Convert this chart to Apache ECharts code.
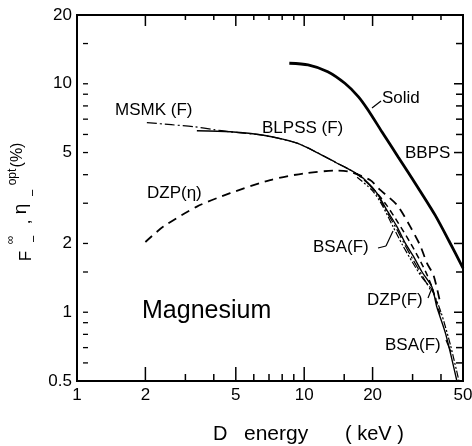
<!DOCTYPE html>
<html><head><meta charset="utf-8">
<script src="https://cdn.jsdelivr.net/npm/echarts@6/dist/echarts.min.js"></script>
<style>html,body{margin:0;padding:0;background:#fff}#c{width:472px;height:446px}</style>
</head><body><div id="c"></div>
<script>
// ---- data ----
const xTickValues = [2,3,4,5,6,7,8,9,10,15,20,30,40];
const xMajorTicks = [2,5,10,20];
const xTickLabels = [1,2,5,10,20,50];
const yTickValues = [15,10,9,8,7,6,5,4,3,2,1.5,1,0.9,0.8,0.7,0.6];
const yTickLabels = [0.5,1,2,5,10,20];

const bbpsEnergy = [8.6,10.4,12.7,15.1,17.3,19.1,21.9,26.0,31.8,37.7,43.4,50];
const bbpsValue  = [12.3,12.1,11.3,10.05,8.79,7.68,6.2,4.76,3.49,2.66,2.05,1.56];

const blpssEnergy = [3.37,4.72,6.62,9.29,11.4,13.9,15.9,18.2,20.9,23.1,25.6,27.9,30.3,33.0,36.5,38.4,42.0,47.0];
const blpssValue  = [6.23,6.17,5.95,5.5,5.0,4.5,4.2,3.86,3.32,2.8,2.37,2.0,1.75,1.5,1.29,1.05,0.8,0.5];

const msmkEnergy = [2.03,2.6,3.3,4.0,4.7,6.6,9.3,11.4,13.9,15.9,18.2,20.9,23.1,25.6,27.9,30.3,33.0,36.0];
const msmkValue  = [6.76,6.62,6.48,6.3,6.17,5.95,5.5,5.0,4.5,4.2,3.84,3.28,2.75,2.3,1.95,1.68,1.45,1.25];

const dzpEtaEnergy = [2.0,2.4,3.37,4.72,7.08,9.93,13.9,15.9,19.5,21.6,25.6,29.3,32.4,34.7,37.1,39.7];
const dzpEtaValue  = [2.03,2.37,2.9,3.32,3.79,4.05,4.17,4.12,3.79,3.43,2.95,2.37,1.96,1.64,1.45,1.1];

const dzpFEnergy = [17.0,20.0,23.0,26.0,29.0,32.0,34.5,36.5,38.5,40.0];
const dzpFValue  = [4.05,3.5,2.95,2.45,2.05,1.72,1.48,1.29,1.08,0.95];

const bsaEnergy = [17.1,20.0,22.0,24.7,27.0,30.0,33.0,36.5,40.0,44.0,48.0];
const bsaValue  = [3.9,3.4,2.95,2.35,1.98,1.65,1.42,1.25,1.0,0.72,0.5];

const zip = (a,b) => a.map((v,i)=>[v,b[i]]);

const chart = echarts.init(document.getElementById('c'));
const FONT = 'Liberation Sans, Arial, sans-serif';
const hiddenAxis = {
  type:'log', logBase:10,
  axisLine:{show:false}, axisTick:{show:false}, axisLabel:{show:false},
  splitLine:{show:false}, minorTick:{show:false}
};
const mk = (data, width, type) => ({
  type:'line', data, showSymbol:false, smooth:0.25, silent:true,
  lineStyle:{color:'#000', width, type}
});
chart.setOption({
  animation:false,
  backgroundColor:'#fff',
  grid:{left:77,right:9,top:15,bottom:65,show:true,borderColor:'#000',borderWidth:2,backgroundColor:'transparent'},
  xAxis:Object.assign({min:1,max:50}, hiddenAxis),
  yAxis:Object.assign({min:0.5,max:20}, hiddenAxis),
  series:[
    mk(zip(bbpsEnergy,bbpsValue), 2.8, 'solid'),
    mk(zip(blpssEnergy,blpssValue), 1.4, 'solid'),
    mk(zip(msmkEnergy,msmkValue), 1.2, [10,3,2,3]),
    mk(zip(dzpEtaEnergy,dzpEtaValue), 1.8, [9,6]),
    mk(zip(dzpFEnergy,dzpFValue), 1.5, [6,4]),
    mk(zip(bsaEnergy,bsaValue), 1.2, [7,2,2,2,2,2])
  ]
});

const px = v => chart.convertToPixel({xAxisIndex:0}, v);
const py = v => chart.convertToPixel({yAxisIndex:0}, v);
const g = [];
const yTop = py(20), yBot = py(0.5), xL = px(1), xR = px(50);
const line = (x1,y1,x2,y2,w) => g.push({type:'line',shape:{x1,y1,x2,y2},style:{stroke:'#000',lineWidth:w||1.5}});
xTickValues.forEach(v=>{
  const x = px(v), major = xMajorTicks.includes(v);
  line(x,yBot,x,yBot-(major?14:7),1.5);
  line(x,yTop,x,yTop+(major?11:5),1.5);
});
yTickValues.forEach(v=>{
  const y = py(v), major = [10,5,2,1].includes(v);
  line(xL+6,y,xL+11,y,1.3);
  line(xR,y,xR-(major?9:7),y,1.5);
});
const txt = (text,x,y,opt) => g.push({type:'text',x,y,rotation:(opt&&opt.rot)||0,style:Object.assign({
  text, fill:'#000', font:'16px '+FONT, textAlign:'left', textVerticalAlign:'middle'}, opt&&opt.style)});
yTickLabels.forEach(v=>txt(String(v), xL-5, py(v), {style:{textAlign:'right',font:'17px '+FONT}}));
xTickLabels.forEach(v=>txt(String(v), px(v), yBot+14, {style:{textAlign:'center',font:'17px '+FONT}}));

const LF = '17px '+FONT;
txt('MSMK (F)',115,110,{style:{font:LF}});
txt('BLPSS (F)',262,128,{style:{font:LF}});
txt('Solid',382,98,{style:{font:LF}});
txt('BBPS',405,153,{style:{font:LF}});
txt('DZP(η)',147,193,{style:{font:LF}});
txt('BSA(F)',313,247,{style:{font:LF}});
txt('DZP(F)',367,300,{style:{font:LF}});
txt('BSA(F)',385,345,{style:{font:LF}});
txt('Magnesium',142,311,{style:{font:'25px '+FONT}});
txt('D',213,434,{style:{font:'20px '+FONT}});
txt('energy',244,434,{style:{font:'21px '+FONT}});
txt('( keV )',345,434,{style:{font:'20px '+FONT}});
// annotation arrows
line(372,108,381,101,1.2);
line(378,248,386,246,1.2); line(386,246,393,231,1.2);
line(428,298,432,288,1.2);
line(446,340,451,352,1.2);
// y-axis title pieces (rotated)
const R = Math.PI/2;
txt('F',26,256,{rot:R,style:{textAlign:'center',font:'17px '+FONT}});
txt('∞',11,240,{rot:R,style:{textAlign:'center',font:'12px '+FONT}});
txt('−',34,239,{rot:R,style:{textAlign:'center',font:'13px '+FONT}});
txt(',',25,222,{rot:R,style:{textAlign:'center',font:'17px '+FONT}});
txt('η',21,209,{rot:R,style:{textAlign:'center',font:'19px '+FONT}});
txt('−',33,193,{rot:R,style:{textAlign:'center',font:'13px '+FONT}});
txt('opt',13,177,{rot:R,style:{textAlign:'center',font:'12px '+FONT}});
txt('(%)',18,155,{rot:R,style:{textAlign:'center',font:'16px '+FONT}});
chart.setOption({graphic:g});
</script></body></html>
